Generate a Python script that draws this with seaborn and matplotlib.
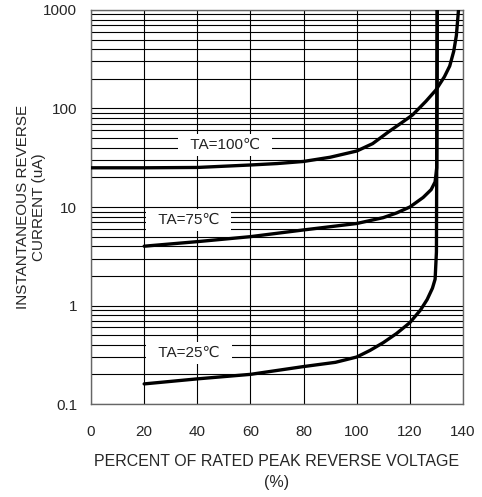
import matplotlib
matplotlib.use("Agg")
import matplotlib.pyplot as plt
import seaborn as sns
import pandas as pd
import numpy as np
from matplotlib.ticker import LogLocator, FixedLocator, FixedFormatter, NullFormatter

# ---- data ----
x_100 = [0, 20, 40, 60, 70, 80, 90, 100, 106, 112, 117, 121, 126, 129.8, 133, 135, 136.5, 137.5, 138.3]
y_100 = [25, 25, 25.2, 26.7, 27.6, 29, 32, 37, 44, 58, 72, 86, 118, 154, 210, 270, 380, 550, 1000]

x_75 = [20, 40, 60, 80, 100, 110, 115, 120, 125, 128, 129.5, 130.1, 130.3]
y_75 = [4, 4.45, 5, 5.85, 6.8, 7.8, 8.7, 10, 12.5, 15, 18, 25, 1000]

x_25 = [20, 40, 60, 80, 92, 100, 105, 110, 115, 120, 124, 126.5, 128.5, 129.5, 130.0, 130.3]
y_25 = [0.16, 0.18, 0.2, 0.24, 0.265, 0.3, 0.35, 0.42, 0.52, 0.67, 0.9, 1.15, 1.5, 1.85, 3.5, 1000]

labels = ["TA=100\u2103", "TA=75\u2103", "TA=25\u2103"]
label_x = [50.5, 36.7, 36.9]
label_y = [42.6, 7.4, 0.33]

x_ticks = [0, 20, 40, 60, 80, 100, 120, 140]
y_ticks = [0.1, 1, 10, 100, 1000]
y_tick_labels = ["0.1", "1", "10", "100", "1000"]

curves = [(x_100, y_100), (x_75, y_75), (x_25, y_25)]

sns.set_style("white")
plt.rcParams['font.family'] = ['Liberation Sans', 'DejaVu Sans']

fig = plt.figure(figsize=(4.82, 4.97), dpi=100)
ax = fig.add_axes([0.1888, 0.1871, 0.9606 - 0.1888, 0.9799 - 0.1871])

for (xs, ys) in curves:
    df = pd.DataFrame({"x": xs, "y": ys})
    sns.lineplot(data=df, x="x", y="y", sort=False, ax=ax, color="black",
                 linewidth=2.4, estimator=None, zorder=4)

ax.set_yscale("log")
ax.set_xlim(0, 140)
ax.set_ylim(0.1, 1000)

ax.xaxis.set_major_locator(FixedLocator(x_ticks))
ax.yaxis.set_major_locator(FixedLocator(y_ticks))
ax.yaxis.set_major_formatter(FixedFormatter(y_tick_labels))
ax.yaxis.set_minor_locator(LogLocator(base=10, subs=np.arange(2, 10)))
ax.yaxis.set_minor_formatter(NullFormatter())

ax.grid(True, which="major", axis="both", color="black", linewidth=0.8)
ax.grid(True, which="minor", axis="y", color="black", linewidth=0.8)
ax.set_axisbelow(True)

ax.tick_params(axis="x", which="both", length=0, pad=15, labelsize=11)
ax.tick_params(axis="y", which="both", length=0, pad=10, labelsize=11)

for s in ax.spines.values():
    s.set_color("#666666")
    s.set_linewidth(1.0)

for t, lx, ly in zip(labels, label_x, label_y):
    ax.text(lx, ly, "  " + t + "  ", ha="center", va="center", fontsize=11,
            color="#222222",
            bbox=dict(facecolor="white", edgecolor="none", boxstyle="square,pad=0.25"),
            zorder=3)

ax.set_xlabel("PERCENT OF RATED PEAK REVERSE VOLTAGE\n(%)", fontsize=11.5,
              labelpad=11, linespacing=1.45)
ax.set_ylabel("INSTANTANEOUS REVERSE\nCURRENT (uA)", fontsize=11, labelpad=-2)

fig.savefig("out.png", dpi=100)
